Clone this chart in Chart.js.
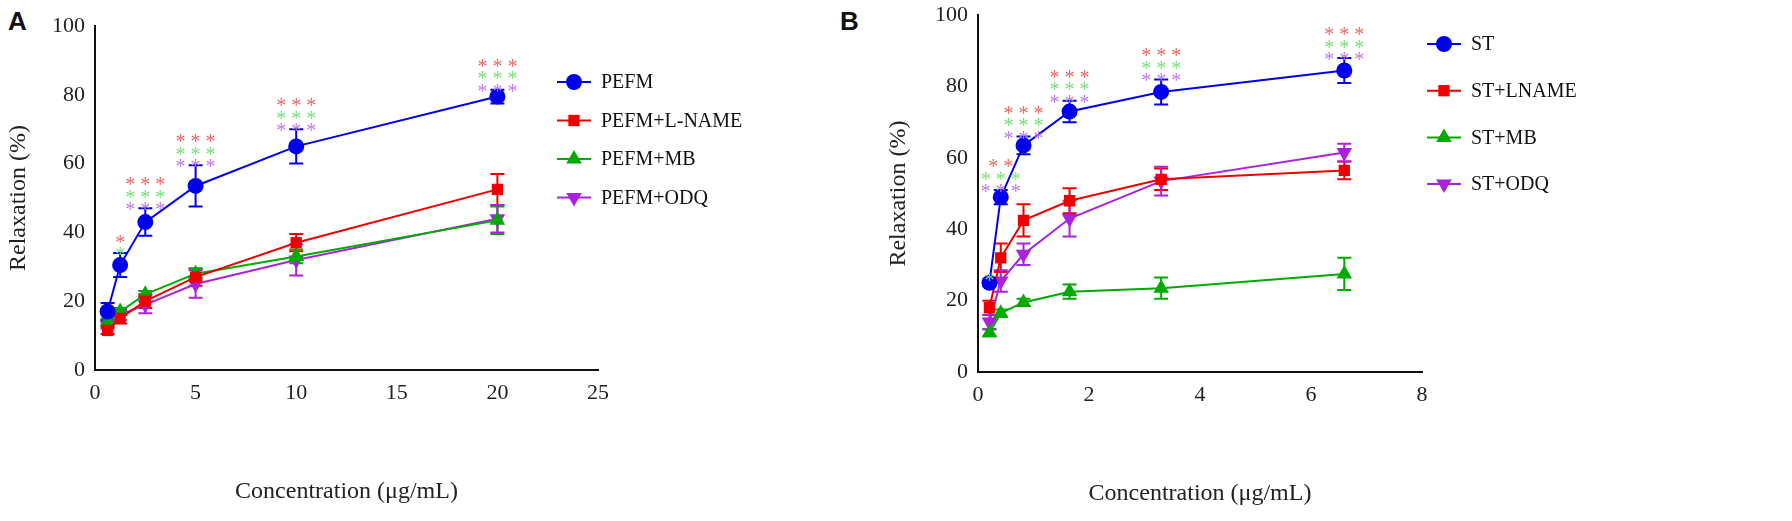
<!DOCTYPE html>
<html>
<head>
<meta charset="utf-8">
<script src="https://cdn.jsdelivr.net/npm/chart.js@4"></script>
<style>
body { margin: 0; background: #fff; width: 1792px; height: 521px; position: relative; overflow: hidden; }
.wrap { position: absolute; top: 0; height: 521px; }
.lbl { position: absolute; font: bold 26px "Liberation Sans", Arial, sans-serif; color: #111; }
</style>
</head>
<body>
<div class="lbl" style="left:8px;top:6px">A</div>
<div class="lbl" style="left:840px;top:6px">B</div>
<div class="wrap" style="left:0;width:760px"><canvas id="chartA"></canvas></div>
<div class="wrap" style="left:880px;width:760px"><canvas id="chartB"></canvas></div>
<script>
// panel A
var concA = [0.625, 1.25, 2.5, 5, 10, 20];
var pefm = [17, 30.5, 43, 53.5, 65, 79.5];
var pefmErr = [2.5, 3.5, 4, 6, 5, 2];
var pefmLname = [11.5, 15, 20, 27, 37, 52.5];
var pefmLnameErr = [1, 1.5, 2, 2.5, 2.5, 4.5];
var pefmMb = [14, 17, 22, 28, 33, 43.5];
var pefmMbErr = [1, 1, 1, 1.5, 2, 4];
var pefmOdq = [13, 16, 19, 25, 32, 44];
var pefmOdqErr = [1, 1.5, 2.5, 4, 4.5, 4];
var starsA = [['', '', ''], ['*', '*', ''], ['***', '***', '***'], ['***', '***', '***'], ['***', '***', '***'], ['***', '***', '***']];
var xTicksA = [0, 5, 10, 15, 20, 25];

// panel B
var concB = [0.206, 0.41, 0.82, 1.65, 3.3, 6.6];
var st = [25, 49, 63.5, 73, 78.5, 84.5];
var stErr = [1, 2, 2.5, 3, 3.5, 3.5];
var stLname = [18, 32, 42.5, 48, 54, 56.5];
var stLnameErr = [2, 4, 4.5, 3.5, 3, 2.5];
var stMb = [11, 16.5, 19.5, 22.5, 23.5, 27.5];
var stMbErr = [1, 1, 1, 2, 3, 4.5];
var stOdq = [14, 25.5, 33, 43, 53.5, 61.5];
var stOdqErr = [2, 3, 3, 5, 4, 2.5];
var starsB = [['', '*', ''], ['**', '***', '***'], ['***', '***', '***'], ['***', '***', '***'], ['***', '***', '***'], ['***', '***', '***']];
var xTicksB = [0, 2, 4, 6, 8];

var yTicks = [0, 20, 40, 60, 80, 100];
var starColors = ['#ee6666', '#77e077', '#c077ee'];
var serif = '"Liberation Serif", "Times New Roman", serif';

function pts(xs, ys) {
    return xs.map(function(x, i) { return { x: x, y: ys[i] }; });
}

function ds(label, xs, ys, errs, color, style, rot) {
    return {
        label: label, data: pts(xs, ys), errs: errs,
        borderColor: color, backgroundColor: color, borderWidth: 2,
        pointStyle: style, pointRotation: rot || 0, pointRadius: style === 'triangle' ? 9 : 8,
        pointBorderWidth: 0, tension: 0
    };
}

var errorBars = {
    id: 'errorBars',
    beforeDatasetsDraw: function(chart) {
        var ctx = chart.ctx, ys = chart.scales.y;
        chart.data.datasets.forEach(function(d, di) {
            var meta = chart.getDatasetMeta(di);
            ctx.save();
            ctx.strokeStyle = d.borderColor;
            ctx.lineWidth = 2;
            meta.data.forEach(function(p, i) {
                var v = d.data[i].y, e = d.errs[i];
                var top = ys.getPixelForValue(v + e), bot = ys.getPixelForValue(v - e);
                ctx.beginPath();
                ctx.moveTo(p.x, top); ctx.lineTo(p.x, bot);
                ctx.moveTo(p.x - 7, top); ctx.lineTo(p.x + 7, top);
                ctx.moveTo(p.x - 7, bot); ctx.lineTo(p.x + 7, bot);
                ctx.stroke();
            });
            ctx.restore();
        });
    },
    afterDatasetsDraw: function(chart) {
        var o = chart.options.plugins.extra, ctx = chart.ctx, ys = chart.scales.y;
        var d0 = chart.data.datasets[0], meta = chart.getDatasetMeta(0);
        ctx.save();
        ctx.font = '20px ' + serif;
        ctx.textAlign = 'center';
        ctx.textBaseline = 'alphabetic';
        meta.data.forEach(function(p, i) {
            var top = ys.getPixelForValue(d0.data[i].y + d0.errs[i]);
            var rows = o.stars[i], yy = top - 4;
            for (var r = 2; r >= 0; r--) {
                if (rows[r] === '' && r === 2) { continue; }
                ctx.fillStyle = starColors[r];
                ctx.fillText(rows[r].split('').join(' '), p.x, yy + 12);
                yy -= 12.5;
            }
        });
        // legend
        ctx.font = '20px ' + serif;
        ctx.textAlign = 'left';
        ctx.textBaseline = 'middle';
        chart.data.datasets.forEach(function(d, di) {
            var y = o.legY + di * o.legGap;
            ctx.strokeStyle = d.borderColor; ctx.lineWidth = 2;
            ctx.beginPath(); ctx.moveTo(o.legX, y); ctx.lineTo(o.legX + 34, y); ctx.stroke();
            ctx.fillStyle = d.backgroundColor;
            Chart.helpers.drawPoint(ctx, { pointStyle: d.pointStyle, rotation: d.pointRotation, radius: d.pointRadius, borderWidth: 0 }, o.legX + 17, y);
            ctx.fillStyle = '#111';
            ctx.fillText(d.label, o.legX + 44, y + 1);
        });
        ctx.restore();
    }
};

function makeChart(id, sets, xMax, xTicks, stars, padR, padB, padT, yW, legX, legY, legGap) {
    new Chart(document.getElementById(id), {
        type: 'line',
        data: { datasets: sets },
        options: {
            responsive: true, maintainAspectRatio: false, animation: false,
            layout: { padding: { top: padT, right: padR, bottom: padB, left: 0 } },
            plugins: {
                legend: { display: false }, tooltip: { enabled: false },
                extra: { stars: stars, legX: legX, legY: legY, legGap: legGap }
            },
            scales: {
                x: {
                    type: 'linear', min: 0, max: xMax,
                    afterBuildTicks: function(s) { s.ticks = xTicks.map(function(v) { return { value: v }; }); },
                    afterFit: function(s) { s.height = 140; },
                    grid: { display: false, drawTicks: true, tickLength: 8, tickColor: '#111' },
                    border: { color: '#111', width: 2 },
                    ticks: { color: '#222', font: { family: serif, size: 22 }, padding: 2 },
                    title: { display: true, text: 'Concentration (μg/mL)', color: '#222', font: { family: serif, size: 24 }, padding: { top: 46 } }
                },
                y: {
                    min: 0, max: 100,
                    afterBuildTicks: function(s) { s.ticks = yTicks.map(function(v) { return { value: v }; }); },
                    afterFit: function(s) { s.width = yW; },
                    grid: { display: false, drawTicks: true, tickLength: 8, tickColor: '#111' },
                    border: { color: '#111', width: 2 },
                    ticks: { color: '#222', font: { family: serif, size: 22 }, padding: 2 },
                    title: { display: true, text: 'Relaxation (%)', color: '#222', font: { family: serif, size: 24 }, padding: { bottom: 2 } }
                }
            }
        },
        plugins: [errorBars]
    });
}

document.getElementById('chartA').parentNode.style.height = '521px';
document.getElementById('chartB').parentNode.style.height = '521px';

makeChart('chartA', [
    ds('PEFM', concA, pefm, pefmErr, '#0000ee', 'circle'),
    ds('PEFM+L-NAME', concA, pefmLname, pefmLnameErr, '#ee0000', 'rect'),
    ds('PEFM+MB', concA, pefmMb, pefmMbErr, '#00aa00', 'triangle'),
    ds('PEFM+ODQ', concA, pefmOdq, pefmOdqErr, '#aa22dd', 'triangle', 180)
], 25, xTicksA, starsA, 162, 11, 26, 95, 557, 82, 38.5);

makeChart('chartB', [
    ds('ST', concB, st, stErr, '#0000ee', 'circle'),
    ds('ST+LNAME', concB, stLname, stLnameErr, '#ee0000', 'rect'),
    ds('ST+MB', concB, stMb, stMbErr, '#00aa00', 'triangle'),
    ds('ST+ODQ', concB, stOdq, stOdqErr, '#aa22dd', 'triangle', 180)
], 8, xTicksB, starsB, 218, 9, 15, 98, 547, 44, 46.7);
</script>
</body>
</html>
